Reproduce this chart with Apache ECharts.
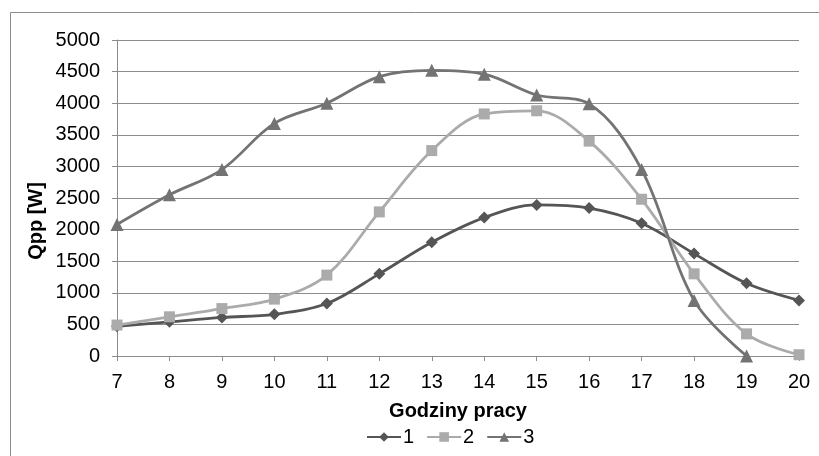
<!DOCTYPE html>
<html>
<head>
<meta charset="utf-8">
<script src="https://cdn.jsdelivr.net/npm/echarts@6/dist/echarts.min.js"></script>
<style>html,body{margin:0;padding:0;background:#fff}#c{width:819px;height:456px}</style>
</head>
<body>
<div id="c"></div>
<script>
const hours = ['7','8','9','10','11','12','13','14','15','16','17','18','19','20'];
const series1 = [470, 540, 610, 660, 830, 1300, 1800, 2190, 2390, 2340, 2100, 1620, 1150, 880];
const series2 = [490, 620, 750, 900, 1280, 2280, 3250, 3830, 3880, 3400, 2480, 1300, 350, 20];
const series3 = [2080, 2550, 2950, 3680, 4000, 4420, 4520, 4460, 4130, 3990, 2950, 880, 0, null];
const seriesNames = ['1', '2', '3'];

const chart = echarts.init(document.getElementById('c'));
const font = '"Liberation Sans", Arial, sans-serif';
chart.setOption({
  animation: false,
  backgroundColor: '#fff',
  graphic: [{
    type: 'rect', left: 8, top: 10, shape: { width: 830, height: 470 },
    style: { fill: 'none', stroke: '#8c8c8c', lineWidth: 1 }, silent: true
  }],
  grid: { left: 117, right: 20, top: 40, bottom: 100 },
  legend: {
    top: 422, left: 361, itemWidth: 34, itemHeight: 12, itemGap: 12,
    textStyle: { fontFamily: font, fontSize: 20, color: '#000', padding: [0, 0, 0, -3] },
    data: seriesNames
  },
  xAxis: {
    type: 'category', data: hours, boundaryGap: false,
    name: 'Godziny pracy', nameLocation: 'middle', nameGap: 45, nameMoveOverlap: false,
    nameTextStyle: { fontFamily: font, fontSize: 20, fontWeight: 'bold', color: '#000', verticalAlign: 'top' },
    axisLine: { lineStyle: { color: '#8c8c8c' } },
    axisTick: { show: true, length: 5, lineStyle: { color: '#8c8c8c' } },
    axisLabel: { fontFamily: font, fontSize: 20, color: '#000', margin: 16 }
  },
  yAxis: {
    type: 'value', min: 0, max: 5000, interval: 500,
    name: 'Qpp [W]', nameLocation: 'middle', nameGap: 71, nameRotate: 90, nameMoveOverlap: false,
    nameTextStyle: { fontFamily: font, fontSize: 20, fontWeight: 'bold', color: '#000', padding: [0, 46, 0, 0] },
    axisLine: { show: true, lineStyle: { color: '#8c8c8c' } },
    axisTick: { show: true, length: 5, lineStyle: { color: '#8c8c8c' } },
    axisLabel: { fontFamily: font, fontSize: 20, color: '#000', margin: 17, formatter: v => String(v) },
    splitLine: { lineStyle: { color: '#8c8c8c', width: 1 } }
  },
  series: [
    { name: seriesNames[0], type: 'line', data: series1, smooth: 0.35, symbol: 'diamond', symbolSize: 12,
      itemStyle: { color: '#555555' }, lineStyle: { color: '#555555', width: 2.8 } },
    { name: seriesNames[1], type: 'line', data: series2, smooth: 0.35, symbol: 'rect', symbolSize: 11,
      itemStyle: { color: '#ababab' }, lineStyle: { color: '#ababab', width: 2.8 } },
    { name: seriesNames[2], type: 'line', data: series3, smooth: 0.35, symbol: 'triangle', symbolSize: 13,
      itemStyle: { color: '#737373' }, lineStyle: { color: '#737373', width: 2.8 } }
  ]
});
</script>
</body>
</html>
